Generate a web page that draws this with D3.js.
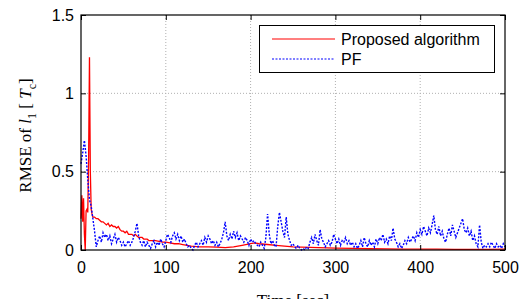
<!DOCTYPE html>
<html><head><meta charset="utf-8">
<script src="https://cdn.jsdelivr.net/npm/d3@7"></script>
<style>body{margin:0;background:#fff}svg{display:block}</style>
</head><body>
<script>
const xTicks = [0, 100, 200, 300, 400, 500];
const yTicks = [0, 0.5, 1, 1.5];
const seriesNames = ["Proposed algorithm", "PF"];

const redTime = [0,1,2,3,4,5,6,7,8,9,10,11,12,13,14,16,18,20,22,24,26,28,30,32,34,36,38,40,42,44,46,48,50,52,54,56,58,60,62,64,66,68,70,72,74,76,78,80,84,88,92,96,100,105,110,115,120,125,130,140,150,160,170,180,190,200,205,210,220,230,240,250,260,280,300,320,340,360,380,400,420,440,460,480,500];
const redRmse = [0.20,0.35,0.18,0.33,0.10,0.0,0.25,0.26,0.24,0.6,1.23,0.5,0.26,0.23,0.21,0.21,0.20,0.20,0.19,0.18,0.18,0.17,0.16,0.17,0.15,0.16,0.15,0.15,0.14,0.15,0.13,0.12,0.12,0.11,0.12,0.10,0.10,0.10,0.09,0.10,0.09,0.08,0.08,0.08,0.07,0.07,0.07,0.06,0.06,0.06,0.055,0.05,0.05,0.045,0.04,0.04,0.035,0.03,0.025,0.02,0.02,0.018,0.015,0.02,0.03,0.04,0.045,0.04,0.035,0.03,0.025,0.02,0.018,0.015,0.012,0.01,0.008,0.007,0.006,0.005,0.005,0.004,0.004,0.004,0.005];

const pfStep = 2; // seconds between PF samples, starting at t = 0
const pfRmse = [
0.55,0.62,0.70,0.60,0.45,0.32,0.28,0.20,0.12,0.02,0.06,
0.09,0.05,0.11,0.08,0.10,0.06,0.09,0.04,0.07,0.10,0.05,0.08,0.06,0.03,0.05,0.02,0.04,0.06,0.03,0.05,
0.08,0.12,0.17,0.09,0.05,0.03,0.06,0.02,0.05,0.03,0.01,0.04,0.06,0.02,0.05,0.03,0.07,0.04,0.02,0.06,
0.10,0.08,0.05,0.09,0.11,0.07,0.10,0.06,0.09,0.05,0.07,0.04,0.02,0.03,0.01,0.00,0.03,0.05,0.02,0.04,
0.06,0.03,0.08,0.05,0.09,0.07,0.04,0.06,0.03,0.05,0.02,0.04,0.07,0.11,0.18,0.09,0.06,0.10,0.07,0.12,
0.08,0.11,0.06,0.09,0.07,0.05,0.08,0.06,0.03,0.07,0.05,0.06,0.04,0.03,0.02,0.05,0.03,0.01,0.08,0.23,
0.10,0.04,0.06,0.03,0.02,0.15,0.24,0.18,0.12,0.08,0.21,0.10,0.06,0.03,0.04,0.02,0.01,0.03,0.01,0.00,
0.01,0.00,0.02,0.01,0.05,0.08,0.04,0.10,0.06,0.03,0.13,0.07,0.05,0.02,0.04,0.06,0.03,0.05,0.10,0.07,
0.04,0.07,0.03,0.06,0.05,0.08,0.04,0.06,0.03,0.05,0.02,0.04,0.01,0.03,0.06,0.02,0.08,0.04,0.02,0.06,
0.03,0.05,0.02,0.07,0.04,0.08,0.06,0.10,0.05,0.07,0.04,0.09,0.06,0.14,0.07,0.05,0.02,0.04,0.01,0.03,
0.06,0.04,0.08,0.05,0.07,0.09,0.06,0.11,0.08,0.13,0.10,0.15,0.12,0.09,0.14,0.11,0.16,0.22,0.13,0.10,
0.15,0.09,0.12,0.07,0.05,0.10,0.14,0.09,0.16,0.12,0.08,0.11,0.14,0.17,0.20,0.13,0.11,0.14,0.09,0.12,
0.06,0.09,0.04,0.02,0.16,0.05,0.01,0.03,0.02,0.04,0.02,0.05,0.03,0.01,0.04,0.02,0.03,0.01,0.04,0.02];

const W = 527, H = 299;
const m = {left: 81, right: 22, top: 15, bottom: 49};
const svg = d3.select("body").append("svg").attr("width", W).attr("height", H);
const x = d3.scaleLinear().domain([0, 500]).range([m.left, W - m.right]);
const y = d3.scaleLinear().domain([0, 1.5]).range([H - m.bottom, m.top]);
const x0 = x.range()[0], x1 = x.range()[1], y0 = y.range()[0], y1 = y.range()[1];

// grid
const g = svg.append("g");
g.selectAll(".gx").data(xTicks.slice(1, -1)).join("line")
  .attr("x1", d => x(d)).attr("x2", d => x(d)).attr("y1", y0).attr("y2", y1)
  .attr("stroke", "#b0b0b0").attr("stroke-width", 1).attr("stroke-dasharray", "1,2");
g.selectAll(".gy").data(yTicks.slice(1, -1)).join("line")
  .attr("y1", d => y(d)).attr("y2", d => y(d)).attr("x1", x0).attr("x2", x1)
  .attr("stroke", "#b0b0b0").attr("stroke-width", 1).attr("stroke-dasharray", "1,2");

// lines
const redData = redTime.map((t, i) => [t, redRmse[i]]);
const pfData = pfRmse.map((v, i) => [i * pfStep, v]);
const line = d3.line().x(d => x(d[0])).y(d => y(d[1]));
svg.append("path").datum(redData).attr("d", line).attr("fill", "none")
  .attr("stroke", "#ff0000").attr("stroke-width", 1.3);
svg.append("path").datum(pfData).attr("d", line).attr("fill", "none")
  .attr("stroke", "#0000ff").attr("stroke-width", 1.4).attr("stroke-dasharray", "2,1.5");

// axes (ticks inside, matlab style)
const font = "'Liberation Sans', Arial, sans-serif";
const ax = svg.append("g").attr("transform", `translate(0,${y0})`)
  .call(d3.axisBottom(x).tickValues(xTicks).tickSize(-5).tickPadding(12).tickSizeOuter(0));
const ay = svg.append("g").attr("transform", `translate(${x0},0)`)
  .call(d3.axisLeft(y).tickValues(yTicks).tickFormat(d3.format("~g")).tickSize(-5).tickPadding(7).tickSizeOuter(0));
const axT = svg.append("g").attr("transform", `translate(0,${y1})`)
  .call(d3.axisTop(x).tickValues(xTicks).tickSize(-5).tickFormat("").tickSizeOuter(0));
const ayR = svg.append("g").attr("transform", `translate(${x1},0)`)
  .call(d3.axisRight(y).tickValues(yTicks).tickSize(-5).tickFormat("").tickSizeOuter(0));
[ax, ay, axT, ayR].forEach(a => {
  a.select(".domain").remove();
  a.selectAll("line").attr("stroke", "#000");
  a.selectAll("text").attr("font-family", font).attr("font-size", 16).attr("fill", "#000");
});
svg.append("rect").attr("x", x0).attr("y", y1).attr("width", x1 - x0).attr("height", y0 - y1)
  .attr("fill", "none").attr("stroke", "#000").attr("stroke-width", 1.2);

// legend
const lg = svg.append("g");
lg.append("rect").attr("x", 259.5).attr("y", 25.5).attr("width", 235).attr("height", 47)
  .attr("fill", "#fff").attr("stroke", "#000").attr("stroke-width", 1);
const legColors = ["#ff0000", "#0000ff"];
seriesNames.forEach((n, i) => {
  const yy = 39 + i * 20;
  lg.append("line").attr("x1", 272).attr("x2", 335).attr("y1", yy).attr("y2", yy)
    .attr("stroke", legColors[i]).attr("stroke-width", 1.2)
    .attr("stroke-dasharray", i === 1 ? "2,1.5" : null);
  lg.append("text").attr("x", 341).attr("y", yy + 6).text(n)
    .attr("font-family", font).attr("font-size", 16).attr("fill", "#000");
});

// axis labels
const serif = "'Liberation Serif', 'Times New Roman', serif";
const yl = svg.append("text").attr("transform", `translate(31,${(y0 + y1) / 2 + 3}) rotate(-90)`)
  .attr("text-anchor", "middle").attr("font-family", serif).attr("font-size", 17).attr("fill", "#000");
yl.append("tspan").text("RMSE of ");
yl.append("tspan").attr("font-style", "italic").text("l");
yl.append("tspan").attr("font-size", 12).attr("dy", 5).text("1");
yl.append("tspan").attr("dy", -5).text(" [ ");
yl.append("tspan").attr("font-style", "italic").text("T");
yl.append("tspan").attr("font-size", 12).attr("dy", 5).text("c");
yl.append("tspan").attr("dy", -5).text("]");

svg.append("text").attr("x", (x0 + x1) / 2).attr("y", 306).attr("text-anchor", "middle")
  .attr("font-family", serif).attr("font-size", 17).attr("fill", "#000").text("Time [sec]");
</script>
</body></html>
